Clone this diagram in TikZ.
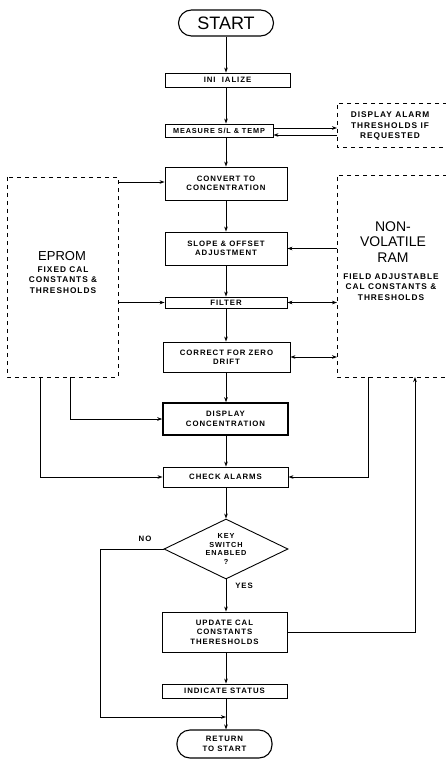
\documentclass[tikz,border=0pt]{standalone}
\usepackage{fontspec}
\setmainfont{Liberation Sans}
\newfontfamily\spfont[LetterSpace=12]{Liberation Sans}
\usetikzlibrary{arrows.meta,shapes.geometric}
\tikzset{
  boxnode/.style={draw,line width=0.9pt,minimum width=122pt,inner sep=1pt,align=center,font=\spfont\fontsize{7.8}{9.4}\selectfont\bfseries},
  termnode/.style={draw,line width=1.1pt,rounded corners=13pt,align=center,inner sep=1pt},
  ln/.style={line width=0.8pt},
  arr/.style={ln,-{Stealth[length=5pt,width=3.6pt]}},
  barr/.style={ln,{Stealth[length=5pt,width=3.6pt]}-{Stealth[length=5pt,width=3.6pt]}},
  dsh/.style={line width=0.9pt,dash pattern=on 4pt off 4pt},
  lbl/.style={font=\spfont\fontsize{7.8}{10}\selectfont\bfseries,align=center,inner sep=0pt},
  sidelbl/.style={font=\spfont\fontsize{8.3}{10.5}\selectfont\bfseries,align=center,inner sep=0pt}
}
\begin{document}
\begin{tikzpicture}[x=1pt,y=-1pt]
\useasboundingbox (0,0) rectangle (445,759);
% terminals
\node[termnode,minimum width=95pt,minimum height=26pt,font=\fontsize{18}{18}\selectfont] (start) at (226,23) {START};
\node[termnode,minimum width=95pt,minimum height=28pt,font=\spfont\fontsize{7.8}{9.4}\selectfont\bfseries] (ret) at (224.5,744) {RETURN\\TO START};
% process boxes
\node[boxnode,minimum width=125pt,minimum height=14pt] (init) at (227.5,80) {INI\ \ IALIZE};
\node[boxnode,minimum width=108pt,minimum height=13pt,font=\spfont\fontsize{7.3}{9}\selectfont\bfseries] (meas) at (219,130.5) {MEASURE S/L \& TEMP};
\node[boxnode,minimum height=33pt] (conv) at (226,183.5) {CONVERT TO\\CONCENTRATION};
\node[boxnode,minimum height=33pt] (slope) at (226,248.5) {SLOPE \& OFFSET\\ADJUSTMENT};
\node[boxnode,minimum height=11pt] (filt) at (226,302.5) {FILTER};
\node[boxnode,minimum width=127pt,minimum height=30pt] (corr) at (226.5,357) {CORRECT FOR ZERO\\DRIFT};
\node[boxnode,line width=1.6pt,minimum width=125pt,minimum height=32pt] (dcon) at (225.5,419) {DISPLAY\\CONCENTRATION};
\node[boxnode,minimum width=125pt,minimum height=20pt] (chk) at (225.5,477) {CHECK ALARMS};
\node[draw,diamond,line width=0.9pt,minimum width=124pt,minimum height=60pt,inner sep=0pt,aspect=2.07,align=center,font=\spfont\fontsize{7.3}{8.4}\selectfont\bfseries] (key) at (226,549) {KEY\\SWITCH\\ENABLED\\?};
\node[boxnode,minimum width=125pt,minimum height=40pt] (upd) at (224.5,632) {UPDATE CAL\\CONSTANTS\\THERESHOLDS};
\node[boxnode,minimum width=125pt,minimum height=14pt] (ind) at (224.5,691) {INDICATE STATUS};
% dashed boxes
\draw[dsh] (447,103) -- (337,103) -- (337,147) -- (447,147);
\node[sidelbl] (dtxt) at (390,126) {DISPLAY ALARM\\THRESHOLDS IF\\REQUESTED};
\coordinate (dispw) at (337,125);
\draw[dsh] (7,177) rectangle (118,377);
\node[inner sep=0pt,font=\fontsize{13}{14}\selectfont] (eptitle) at (62,256) {EPROM};
\node[sidelbl] (eptxt) at (63,280) {FIXED CAL\\CONSTANTS \&\\THRESHOLDS};
\coordinate (epe) at (118,250);
\draw[dsh] (447,175) -- (337,175) -- (337,377) -- (447,377);
\node[inner sep=0pt,align=center,font=\fontsize{14}{15.5}\selectfont] (ramtitle) at (393,242) {NON-\\VOLATILE\\RAM};
\node[sidelbl] (ramtxt) at (391,287) {FIELD ADJUSTABLE\\CAL CONSTANTS \&\\THRESHOLDS};
% main flow
\draw[arr] (start.south) -- (start.south |- init.north);
\draw[arr] (init.south -| 226,0) -- (226,0 |- meas.north);
\draw[arr] (meas.south -| 226,0) -- (conv.north);
\draw[arr] (conv) -- (slope);
\draw[arr] (slope) -- (filt);
\draw[arr] (filt) -- (corr.north -| filt.south);
\draw[arr] (corr.south -| 226,0) -- (dcon.north -| 226,0);
\draw[arr] (dcon.south -| 226,0) -- (chk.north -| 226,0);
\draw[arr] (chk.south -| 226,0) -- (key.north);
\draw[arr] (key.south) -- (upd.north -| key.south);
\draw[arr] (upd.south -| 226,0) -- (ind.north -| 226,0);
\coordinate (join) at (226,717);
\draw[arr] (ind.south -| 226,0) -- (ret.north -| 226,0);
% display alarm link
\draw[arr] (meas.east |- 0,128) -- (dispw |- 0,128);
\draw[arr] (dispw |- 0,135) -- (meas.east |- 0,135);
% EPROM links
\draw[arr] (epe |- 0,182) -- (conv.west |- 0,182);
\draw[arr] (filt.west -| epe) -- (filt.west);
\draw[arr] (70,377) |- (dcon.west);
\draw[arr] (40,377) |- (chk.west);
% RAM links
\draw[arr] (337,248.5) -- (slope.east);
\draw[barr] (filt.east) -- (337,302.5);
\draw[barr] (corr.east) -- (337,357);
\draw[arr] (368,377) |- (chk.east);
\draw[arr] (upd.east) -| (415,377);
% NO loop
\draw[arr] (key.west) -- (100,549) -- (100,717) -- (join);
\node[lbl] (no) at (145,539) {NO};
\node[lbl] (yes) at (244,586) {YES};
\end{tikzpicture}
\end{document}
